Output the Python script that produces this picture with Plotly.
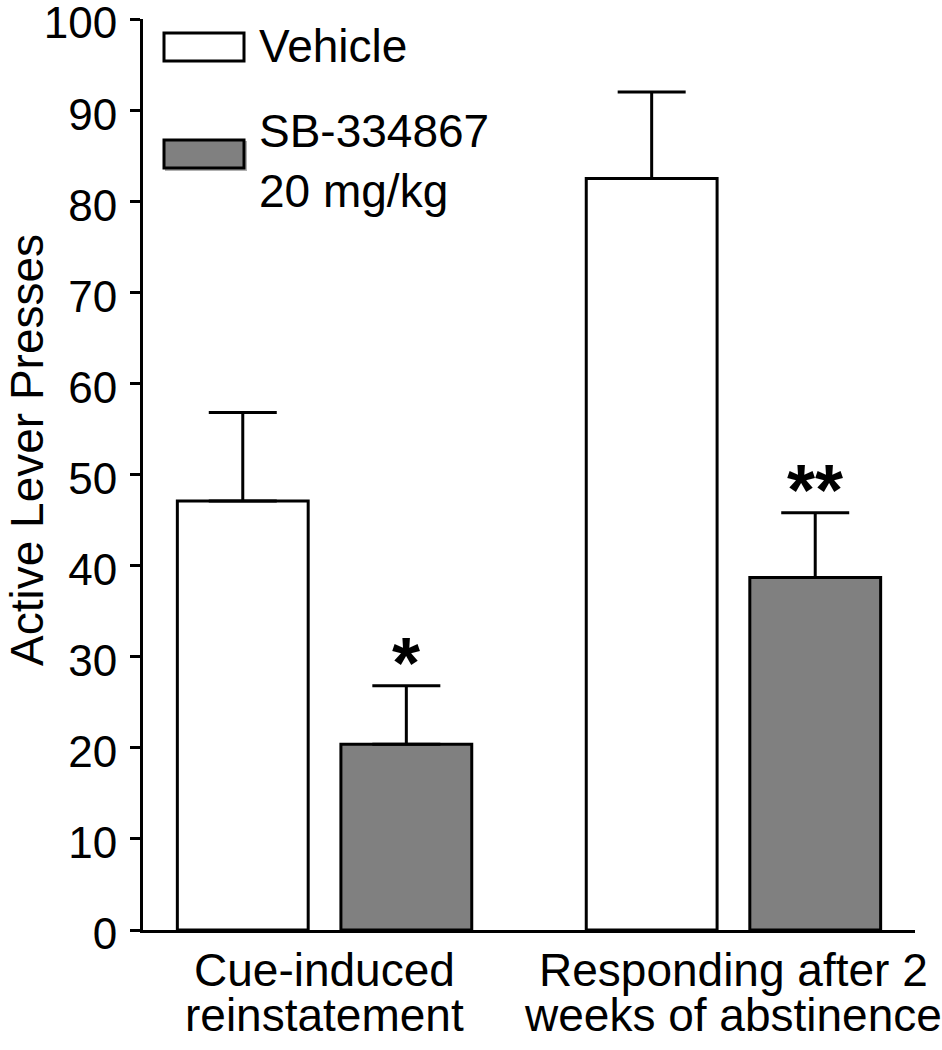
import plotly.graph_objects as go

categories = ["Cue-induced\nreinstatement", "Responding after 2\nweeks of abstinence"]
vehicle_mean = [47.1, 82.5]
vehicle_sem = [9.7, 9.5]
sb_mean = [20.4, 38.7]
sb_sem = [6.4, 7.1]
sig_labels = ["*", "**"]
y_ticks = list(range(0, 101, 10))
legend_names = ["Vehicle", "SB-334867\n20 mg/kg"]
y_title = "Active Lever Presses"

FONT = "Liberation Sans, Arial, sans-serif"
GRAY = "#808080"

# plot-area geometry (pixels) for converting overlay items to paper coords
L, R, T, B = 143, 27, 19, 120
W, H = 942, 1050
PW, PH = W - L - R, H - T - B


def px_x(p):
    return (p - L) / PW


def px_y(p):
    return (H - B - p) / PH


cat_idx = list(range(len(categories)))

fig = go.Figure()
fig.add_trace(go.Bar(
    x=cat_idx, y=vehicle_mean, name=legend_names[0],
    marker=dict(color="white", line=dict(color="black", width=3)),
    error_y=dict(type="data", symmetric=False, array=vehicle_sem,
                 arrayminus=[0] * len(vehicle_sem),
                 color="black", thickness=3, width=34),
))
fig.add_trace(go.Bar(
    x=cat_idx, y=sb_mean, name=legend_names[1],
    marker=dict(color=GRAY, line=dict(color="black", width=3)),
    error_y=dict(type="data", symmetric=False, array=sb_sem,
                 arrayminus=[0] * len(sb_sem),
                 color="black", thickness=3, width=34),
))

annotations = []
# significance markers above SB bars
for i, (m, s, lab) in enumerate(zip(sb_mean, sb_sem, sig_labels)):
    annotations.append(dict(
        x=i + 0.2, y=m + s - 2.1, xref="x", yref="y", text=f"<b>{lab}</b>",
        showarrow=False, yanchor="bottom", xanchor="center",
        font=dict(family=FONT, size=72, color="black"),
    ))

# category labels (two lines each)
line_y = [970, 1015]
for i, cat in enumerate(categories):
    for j, line in enumerate(cat.split("\n")):
        annotations.append(dict(
            x=i, y=px_y(line_y[j]), xref="x", yref="paper", text=line,
            showarrow=False, xanchor="center", yanchor="middle",
            font=dict(family=FONT, size=46, color="black"),
        ))

# y-axis title
annotations.append(dict(
    x=px_x(27), y=px_y(450), xref="paper", yref="paper", text=y_title,
    textangle=-90, showarrow=False, xanchor="center", yanchor="middle",
    font=dict(family=FONT, size=46, color="black"),
))

# legend
shapes = []
box_x0, box_x1 = px_x(164), px_x(244)
shapes.append(dict(type="rect", xref="paper", yref="paper",
                   x0=box_x0, x1=box_x1, y0=px_y(61), y1=px_y(33),
                   fillcolor="white", line=dict(color="black", width=3)))
shapes.append(dict(type="rect", xref="paper", yref="paper",
                   x0=px_x(166), x1=px_x(246), y0=px_y(170), y1=px_y(142),
                   fillcolor="#b0b0b0", line=dict(color="#b0b0b0", width=2)))
shapes.append(dict(type="rect", xref="paper", yref="paper",
                   x0=box_x0, x1=box_x1, y0=px_y(168), y1=px_y(140),
                   fillcolor=GRAY, line=dict(color="black", width=3)))
legend_text_y = [[46], [131, 191]]
for name, ys in zip(legend_names, legend_text_y):
    for line, yy in zip(name.split("\n"), ys):
        annotations.append(dict(
            x=px_x(257), y=px_y(yy), xref="paper", yref="paper", text=line,
            showarrow=False, xanchor="left", yanchor="middle",
            font=dict(family=FONT, size=46, color="black"),
        ))

fig.update_layout(
    width=W, height=H,
    margin=dict(l=L, r=R, t=T, b=B, pad=0, autoexpand=False),
    paper_bgcolor="white", plot_bgcolor="white",
    barmode="group", bargap=0.2, bargroupgap=0.2,
    showlegend=False,
    font=dict(family=FONT, size=44, color="black"),
    annotations=annotations, shapes=shapes,
)
fig.update_xaxes(
    range=[-0.444, 1.444], showline=True, linecolor="black", linewidth=3,
    showgrid=False, zeroline=False, showticklabels=False, ticks="",
    automargin=False,
)
fig.update_yaxes(
    range=[0, 100], tickvals=y_ticks, ticks="outside", ticklen=10,
    tickwidth=3, tickcolor="black", showline=True, linecolor="black",
    linewidth=3, showgrid=False, zeroline=False,
    tickfont=dict(family=FONT, size=44, color="black"),
    ticklabelstandoff=4, ticklabelshift=4, ticklabeloverflow="allow",
    automargin=False,
)

fig.write_html(
    "out.html",
    config={"displayModeBar": False},
    post_script="document.body.style.margin='0';document.body.style.overflow='hidden';",
)
